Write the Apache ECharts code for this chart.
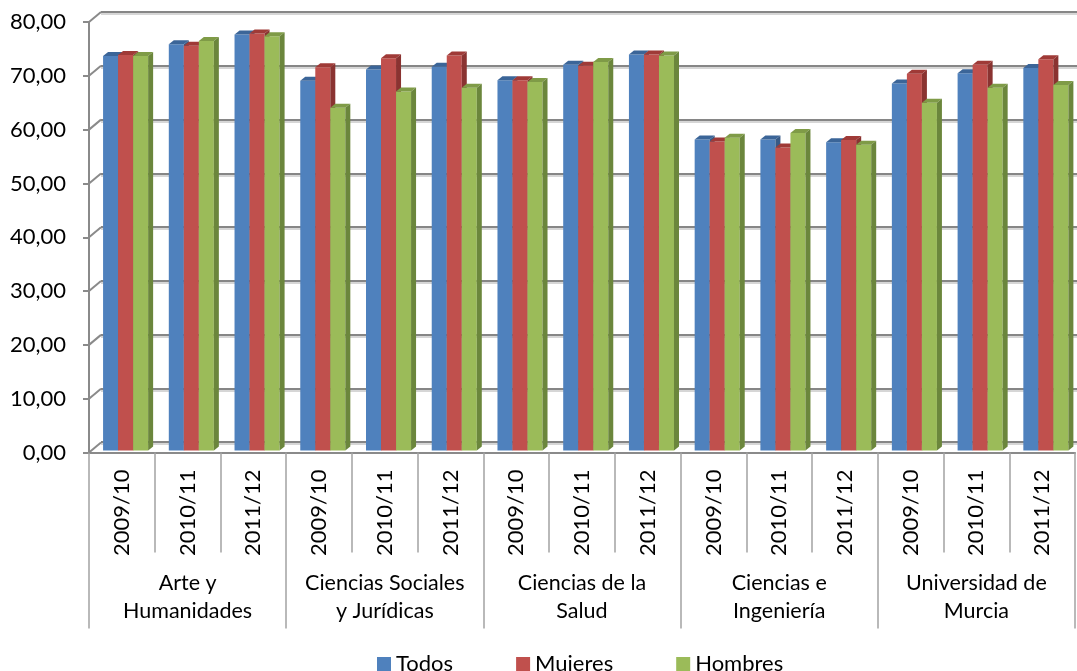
<!DOCTYPE html>
<html>
<head>
<meta charset="utf-8">
<script src="https://cdn.jsdelivr.net/npm/echarts@6/dist/echarts.min.js"></script>
<style>
html, body { margin: 0; padding: 0; background: #fff; }
#chart { width: 1077px; height: 671px; }
</style>
</head>
<body>
<div id="chart"></div>
<script>
// categorias (curso dentro de cada rama)
var years = ['2009/10', '2010/11', '2011/12',
             '2009/10', '2010/11', '2011/12',
             '2009/10', '2010/11', '2011/12',
             '2009/10', '2010/11', '2011/12',
             '2009/10', '2010/11', '2011/12'];
var groups = ['Arte y\nHumanidades', 'Ciencias Sociales\ny Jurídicas', 'Ciencias de la\nSalud',
              'Ciencias e\nIngeniería', 'Universidad de\nMurcia'];

var todos   = [73.3, 75.5, 77.3, 68.7, 70.8, 71.3, 68.8, 71.7, 73.6, 57.8, 57.8, 57.3, 68.2, 70.1, 71.1];
var mujeres = [73.5, 75.2, 77.5, 71.2, 72.9, 73.4, 68.8, 71.5, 73.6, 57.4, 56.3, 57.7, 70.0, 71.7, 72.7];
var hombres = [73.3, 76.1, 77.0, 63.7, 66.7, 67.4, 68.5, 72.2, 73.4, 58.1, 59.0, 56.8, 64.6, 67.4, 67.9];

var yTicks = [0, 10, 20, 30, 40, 50, 60, 70, 80];

var FONT = 'Lato, "Open Sans", sans-serif';

// colores: frente, tapa, lateral
var faces = [
	['#4F81BD', '#3B6598', '#375A86'],
	['#C0504D', '#9F3A37', '#8A3331'],
	['#9BBB59', '#7F9B47', '#6B863C']
];

// barra con efecto 3D (frente + tapa + lateral)
function bar3d(si) {
	return function(params, api) {
		var ci = api.value(0);
		var v  = api.value(1);
		var p  = api.coord([ci, v]);
		var b  = api.coord([ci, 0]);
		var bw = api.size([1, 0])[0];
		var w  = bw * 0.2285;
		var x0 = p[0] - bw * 0.286 + si * w;
		var top = p[1] - 2, bot = b[1] - 2;
		var dx = 5, dy = -4;
		var c = faces[si];
		return {
			type: 'group',
			children: [
				{ type: 'rect', shape: { x: x0, y: top, width: w, height: bot - top }, style: { fill: c[0] } },
				{ type: 'polygon', shape: { points: [[x0, top], [x0 + w, top], [x0 + w + dx, top + dy], [x0 + dx, top + dy]] }, style: { fill: c[1] } },
				{ type: 'polygon', shape: { points: [[x0 + w, top], [x0 + w + dx, top + dy], [x0 + w + dx, bot + dy], [x0 + w, bot]] }, style: { fill: c[2] } }
			]
		};
	};
}

function toPairs(arr) {
	var out = [];
	for (var i = 0; i < arr.length; i++) out.push([i, arr[i]]);
	return out;
}

var myChart = echarts.init(document.getElementById('chart'));

var option = {
	animation: false,
	backgroundColor: '#fff',
	grid: [
		{ left: 89, right: 2, top: 22, bottom: 218.5, outerBoundsMode: 'none' },   // frente
		{ left: 101, right: 0, top: 12, bottom: 229, outerBoundsMode: 'none' },    // pared del fondo
		{ left: 89, right: 2, top: 22, bottom: 218.5, outerBoundsMode: 'none' }    // ramas
	],
	xAxis: [
		{
			gridIndex: 0, type: 'category', data: years,
			axisLine: { show: true, lineStyle: { color: '#8a8a8a', width: 2 } },
			axisTick: { show: true, length: 100, interval: 0, lineStyle: { color: '#a3a3a3', width: 1.5 } },
			axisLabel: { rotate: 90, interval: 0, margin: 17, fontSize: 22, color: '#000', fontFamily: FONT }
		},
		{
			gridIndex: 1, type: 'category', data: years,
			axisLine: { show: false }, axisTick: { show: false }, axisLabel: { show: false }
		},
		{
			gridIndex: 2, type: 'category', data: groups,
			axisLine: { show: false },
			axisTick: { show: true, length: 176, interval: 0, lineStyle: { color: '#a3a3a3', width: 1.5 } },
			axisLabel: { interval: 0, margin: 116, fontSize: 21.5, lineHeight: 28.5, color: '#000', fontFamily: FONT }
		}
	],
	yAxis: [
		{
			gridIndex: 0, type: 'value', min: 0, max: 80, interval: 10,
			axisLine: { show: true, lineStyle: { color: '#8a8a8a', width: 2 } },
			axisTick: { show: true, length: 6, lineStyle: { color: '#8a8a8a', width: 2 } },
			splitLine: { show: false },
			axisLabel: {
				margin: 23, fontSize: 22, color: '#000', fontFamily: FONT,
				formatter: function(v) { return v.toFixed(2).replace('.', ','); }
			}
		},
		{
			gridIndex: 1, type: 'value', min: 0, max: 80, interval: 10,
			axisLine: { show: false }, axisTick: { show: false }, axisLabel: { show: false },
			splitLine: { show: true, lineStyle: { color: '#868686', width: 2, shadowColor: '#d6d6d6', shadowOffsetY: 2, shadowBlur: 0 } }
		},
		{
			gridIndex: 2, type: 'value', min: 0, max: 80, show: false
		}
	],
	legend: {
		data: ['Todos', 'Mujeres', 'Hombres'],
		left: 372, top: 648,
		icon: 'rect', itemWidth: 14, itemHeight: 14, itemGap: 63,
		textStyle: { fontSize: 22, color: '#000', fontFamily: FONT }
	},
	series: [
		{
			// diagonales de la pared izquierda
			type: 'custom', name: 'pared', xAxisIndex: 0, yAxisIndex: 0, silent: true, clip: false,
			data: yTicks.map(function(v) { return [0, v]; }),
			renderItem: function(params, api) {
				var y = api.coord([0, api.value(1)])[1];
				var x = params.coordSys.x;
				return { type: 'line', shape: { x1: x, y1: y, x2: x + 12, y2: y - 10 }, style: { stroke: '#8a8a8a', lineWidth: 2 } };
			}
		},
		{ type: 'custom', name: 'Todos', xAxisIndex: 0, yAxisIndex: 0, clip: false, itemStyle: { color: faces[0][0] }, encode: { x: 0, y: 1 }, data: toPairs(todos), renderItem: bar3d(0) },
		{ type: 'custom', name: 'Mujeres', xAxisIndex: 0, yAxisIndex: 0, clip: false, itemStyle: { color: faces[1][0] }, encode: { x: 0, y: 1 }, data: toPairs(mujeres), renderItem: bar3d(1) },
		{ type: 'custom', name: 'Hombres', xAxisIndex: 0, yAxisIndex: 0, clip: false, itemStyle: { color: faces[2][0] }, encode: { x: 0, y: 1 }, data: toPairs(hombres), renderItem: bar3d(2) }
	]
};

myChart.setOption(option);
</script>
</body>
</html>
